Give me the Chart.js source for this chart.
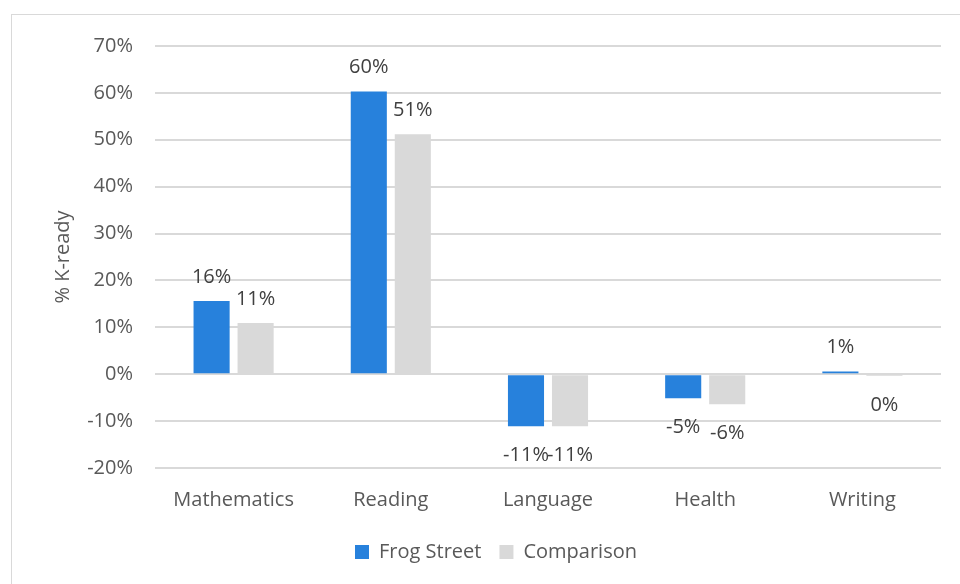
<!DOCTYPE html>
<html>
<head>
<meta charset="utf-8">
<script src="https://cdn.jsdelivr.net/npm/chart.js@4"></script>
<style>
  html, body { margin: 0; padding: 0; background: #fff; }
  #wrap { position: absolute; left: 11px; top: 14px; width: 960px; height: 584px;
          border-left: 1px solid #d9d9d9; border-top: 1px solid #d9d9d9; }
  #box { position: absolute; left: 0; top: 0; width: 960px; height: 584px; }
</style>
</head>
<body>
<div id="wrap"></div>
<div id="box"><canvas id="myChart"></canvas></div>
<script>
  const categories = ['Mathematics', 'Reading', 'Language', 'Health', 'Writing'];
  const frogStreet = [15.6, 60.3, -11.1, -5.1, 0.6];
  const comparison = [10.9, 51.2, -11.1, -6.4, -0.4];
  const yTicks = [70, 60, 50, 40, 30, 20, 10, 0, -10, -20];

  const FONT = "'Open Sans', 'Liberation Sans', sans-serif";
  const TEXT = '#595959';
  const SIZE = 20;

  // draws the % labels at the end of every bar
  const barLabels = {
    id: 'barLabels',
    afterDatasetsDraw(chart) {
      const ctx = chart.ctx;
      ctx.save();
      ctx.font = SIZE + 'px ' + FONT;
      ctx.fillStyle = '#404040';
      ctx.textAlign = 'center';
      ctx.textBaseline = 'alphabetic';
      chart.data.datasets.forEach((ds, i) => {
        chart.getDatasetMeta(i).data.forEach((bar, j) => {
          const v = ds.data[j];
          let r = Math.round(v);
          if (r === 0) r = 0;
          const txt = r + '%';
          if (v >= 0) {
            ctx.fillText(txt, bar.x, bar.y - 18);
          } else {
            ctx.fillText(txt, bar.x, bar.y + 35);
          }
        });
      });
      ctx.restore();
    }
  };

  const ctx = document.getElementById('myChart').getContext('2d');

  const myChart = new Chart(ctx, {
    type: 'bar',
    data: {
      labels: categories,
      datasets: [
        {
          label: 'Frog Street',
          data: frogStreet,
          backgroundColor: '#2781dc',
          categoryPercentage: 0.56,
          barPercentage: 0.82
        },
        {
          label: 'Comparison',
          data: comparison,
          backgroundColor: '#d9d9d9',
          categoryPercentage: 0.56,
          barPercentage: 0.82
        }
      ]
    },
    options: {
      responsive: true,
      maintainAspectRatio: false,
      animation: false,
      layout: { padding: { left: 51, right: 19, top: 46, bottom: 12 } },
      plugins: {
        legend: {
          position: 'bottom',
          labels: {
            font: { family: FONT, size: SIZE },
            color: TEXT,
            boxWidth: 14,
            boxHeight: 14,
            padding: 18
          }
        },
        tooltip: { enabled: false }
      },
      scales: {
        x: {
          grid: { display: false },
          border: { display: false },
          ticks: { font: { family: FONT, size: SIZE }, color: TEXT, padding: 12 }
        },
        y: {
          min: -20,
          max: 70,
          afterBuildTicks: axis => { axis.ticks = yTicks.map(v => ({ value: v })); },
          afterFit: axis => { axis.width = 104; },
          grid: { color: '#d9d9d9', lineWidth: 2, drawTicks: false },
          border: { display: false },
          ticks: {
            font: { family: FONT, size: SIZE },
            color: TEXT,
            padding: 22,
            callback: v => v + '%'
          },
          title: {
            display: true,
            text: '% K-ready',
            font: { family: FONT, size: SIZE },
            color: TEXT,
            padding: 0
          }
        }
      }
    },
    plugins: [barLabels]
  });
</script>
</body>
</html>
